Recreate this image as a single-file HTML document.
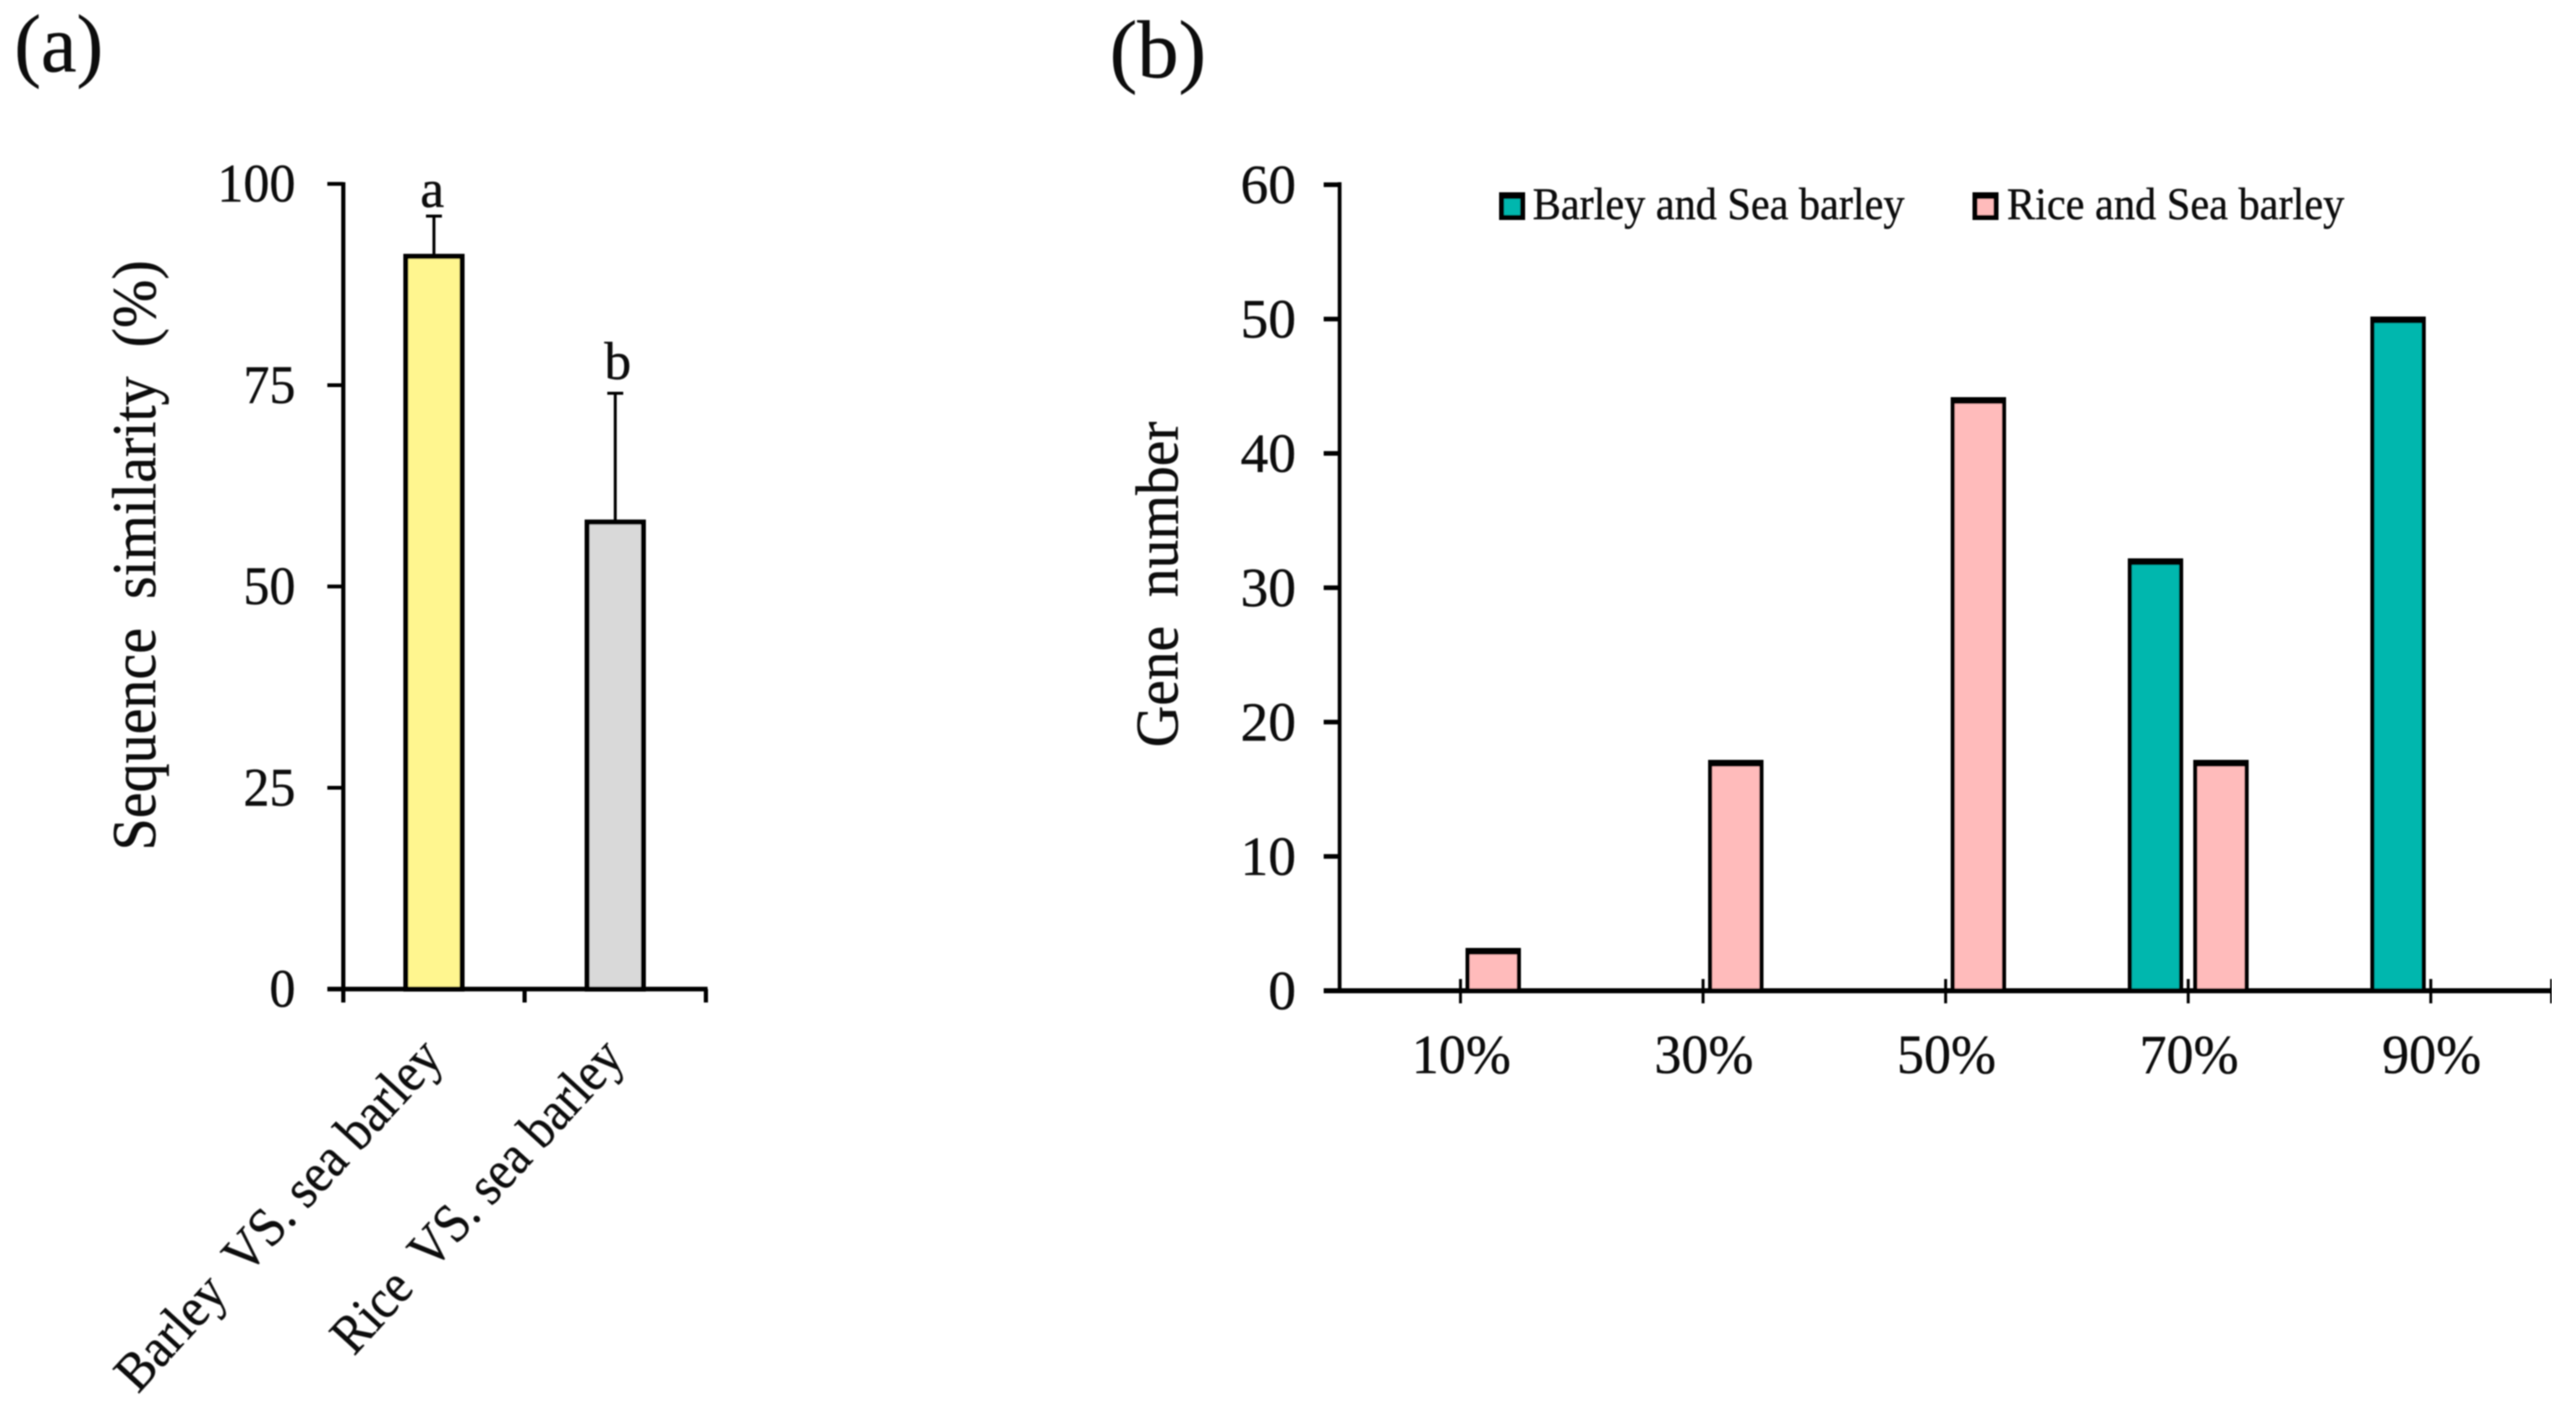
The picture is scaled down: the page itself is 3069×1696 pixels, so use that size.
<!DOCTYPE html>
<html lang="en">
<head>
<meta charset="utf-8">
<title>Sequence similarity and gene number</title>
<style>
html,body{margin:0;padding:0;background:#fff;}
body{width:3069px;height:1696px;overflow:hidden;}
svg{display:block;}
text{font-family:"Liberation Serif",serif;fill:#111;stroke:#111;stroke-width:0.5px;white-space:pre;}
</style>
</head>
<body>
<svg id="fig" xmlns="http://www.w3.org/2000/svg" width="3069" height="1696" viewBox="0 0 3069 1696">
  <defs><filter id="soft" x="0" y="0" width="100%" height="100%"><feGaussianBlur stdDeviation="0.9"/></filter></defs>
  <rect width="3069" height="1696" fill="#fff"/>
  <g id="root" filter="url(#soft)">
    <text x="17" y="85" font-size="97" textLength="106" lengthAdjust="spacingAndGlyphs">(a)</text>
    <text x="1322" y="92" font-size="98" textLength="115" lengthAdjust="spacingAndGlyphs">(b)</text>
    <text transform="translate(185 1013) rotate(-90)" font-size="74" textLength="703" lengthAdjust="spacingAndGlyphs">Sequence  similarity  (%)</text>
    <text transform="translate(1403 890) rotate(-90)" font-size="72" textLength="388" lengthAdjust="spacingAndGlyphs">Gene  number</text>
    <g id="panelA"></g>
    <g id="panelB"></g>
    <g>
      <g>
        <rect x="1786" y="229" width="31" height="33" fill="#000"/>
        <rect x="1792" y="237" width="19" height="19" fill="#00B7AE"/>
        <text x="1826" y="261" font-size="54" textLength="443" lengthAdjust="spacingAndGlyphs">Barley and Sea barley</text>
      </g>
      <g>
        <rect x="2350" y="229" width="31" height="33" fill="#000"/>
        <rect x="2356" y="237" width="19" height="19" fill="#FFBBBB"/>
        <text x="2391" y="261" font-size="54" textLength="402" lengthAdjust="spacingAndGlyphs">Rice and Sea barley</text>
      </g>
    </g>
  </g>
</svg>
<script>
// Panel (a) data
const simCategories = ['Barley  VS. sea barley', 'Rice  VS. sea barley'];
const simValues = [91, 58];
const simErrors = [5, 16];
const simLetters = ['a', 'b'];
const simColors = ['#FFF68F', '#D9D9D9'];
const simTicks = [0, 25, 50, 75, 100];

// Panel (b) data
const binLabels = ['10%', '30%', '50%', '70%', '90%'];
const barleyCounts = [0, 0, 0, 32, 50];
const riceCounts = [3, 17, 44, 17, 0];
const geneTicks = [0, 10, 20, 30, 40, 50, 60];

const NS = 'http://www.w3.org/2000/svg';
function make(parent, tag, attrs, txt) {
  const el = document.createElementNS(NS, tag);
  for (const k in attrs) el.setAttribute(k, attrs[k]);
  if (txt !== undefined) el.textContent = txt;
  parent.appendChild(el);
  return el;
}

/* ---------- Panel A ---------- */
const A = document.getElementById('panelA');
const ax = { left: 409, right: 841, top: 219, bottom: 1178, max: 100 };
function ayScale(v) { return ax.bottom - (v / ax.max) * (ax.bottom - ax.top); }
function axScale(i) { return ax.left + (i + 0.5) * (ax.right - ax.left) / simCategories.length; }
function axEdge(i) { return ax.left + i * (ax.right - ax.left) / simCategories.length; }

const aYAxis = make(A, 'line', { x1: ax.left, x2: ax.left, y1: ax.top - 2, y2: ax.bottom + 16, stroke: '#000', 'stroke-width': 5 });



simTicks.forEach(function (t) {
  const y = ayScale(t);
  const tick = make(A, 'line', { x1: 390, x2: ax.left, y1: y, y2: y, stroke: '#000', 'stroke-width': 4.5 });
  
  
  const s = String(t);
  const label = make(A, 'text', { x: 352, y: y + 21, 'text-anchor': 'end', 'font-size': 65, textLength: 31 * s.length, lengthAdjust: 'spacingAndGlyphs' }, s);
  
  
});

simCategories.forEach(function (c, i) {
  const cx = axScale(i);
  const barW = 73;
  const top = ayScale(simValues[i]);
  const errTop = ayScale(simValues[i] + simErrors[i]);

  const stem = make(A, 'line', { x1: cx, x2: cx, y1: errTop, y2: top, stroke: '#000', 'stroke-width': 3.5 });
  
  
  const cap = make(A, 'line', { x1: cx - 9.5, x2: cx + 9.5, y1: errTop, y2: errTop, stroke: '#000', 'stroke-width': 3.5 });
  
  

  const bar = make(A, 'rect', { x: cx - barW / 2 + 3, y: top, width: barW - 6, height: ax.bottom - top, fill: simColors[i], stroke: '#000', 'stroke-width': 6 });
  
  

  const letter = make(A, 'text', { x: cx + (i === 0 ? -2 : 3), y: errTop - 11 - (i === 0 ? 0 : 6), 'text-anchor': 'middle', 'font-size': 64 }, simLetters[i]);
  
  

  const xl = make(A, 'text', { transform: 'translate(' + (cx + 13) + ' ' + 1262 + ') rotate(-47.5)', 'text-anchor': 'end', 'font-size': 66, textLength: i === 0 ? 541 : 480, lengthAdjust: 'spacingAndGlyphs' }, c);
  
  
});

const aXAxis = make(A, 'line', { x1: 390, x2: ax.right + 2, y1: ax.bottom, y2: ax.bottom, stroke: '#000', 'stroke-width': 5.5 });


for (let i = 1; i <= simCategories.length; i++) {
  const xt = make(A, 'line', { x1: axEdge(i), x2: axEdge(i), y1: ax.bottom, y2: ax.bottom + 16, stroke: '#000', 'stroke-width': 5 });
  
  
}

/* ---------- Panel B ---------- */
const B = document.getElementById('panelB');
const bx = { left: 1596, right: 3040, top: 220, bottom: 1180, max: 60, pitch: 289, first: 1740 };
function byScale(v) { return bx.bottom - (v / bx.max) * (bx.bottom - bx.top); }
function bxScale(i) { return bx.first + i * bx.pitch; }

function drawBar(cx, value, color, name) {
  if (value <= 0) return;
  const w = 66;
  const top = byScale(value);
  const outer = make(B, 'rect', { x: cx - w / 2, y: top - 3, width: w, height: bx.bottom - top + 3, fill: '#000' });
  
  
  const inner = make(B, 'rect', { x: cx - w / 2 + 5, y: top + 5, width: w - 10, height: bx.bottom - top - 5, fill: color });
  
  
}

const bYAxis = make(B, 'line', { x1: bx.left, x2: bx.left, y1: bx.top - 3, y2: bx.bottom, stroke: '#000', 'stroke-width': 4.5 });



geneTicks.forEach(function (t) {
  const y = byScale(t);
  const tick = make(B, 'line', { x1: 1577, x2: bx.left, y1: y, y2: y, stroke: '#000', 'stroke-width': 5.5 });
  
  
  const s = String(t);
  const label = make(B, 'text', { x: 1544, y: y + 22, 'text-anchor': 'end', 'font-size': 66, textLength: 33 * s.length, lengthAdjust: 'spacingAndGlyphs' }, s);
  
  
});

binLabels.forEach(function (c, i) {
  const cx = bxScale(i);
  drawBar(cx - 39, barleyCounts[i], '#00B7AE', 'bar-barley');
  drawBar(cx + 39, riceCounts[i], '#FFBBBB', 'bar-rice');
  const label = make(B, 'text', { x: cx + 1, y: 1278, 'text-anchor': 'middle', 'font-size': 66, textLength: 118, lengthAdjust: 'spacingAndGlyphs' }, c);
  
  
});

const bXAxis = make(B, 'line', { x1: 1577, x2: bx.right, y1: bx.bottom, y2: bx.bottom, stroke: '#000', 'stroke-width': 6 });



binLabels.forEach(function (c, i) {
  const xt = make(B, 'line', { x1: bxScale(i), x2: bxScale(i), y1: bx.bottom - 14, y2: bx.bottom + 15, stroke: '#000', 'stroke-width': 3.5 });
  
  
});
const endTick = make(B, 'line', { x1: bx.right, x2: bx.right, y1: bx.bottom - 14, y2: bx.bottom + 15, stroke: '#000', 'stroke-width': 3.5 });


</script>
</body>
</html>
